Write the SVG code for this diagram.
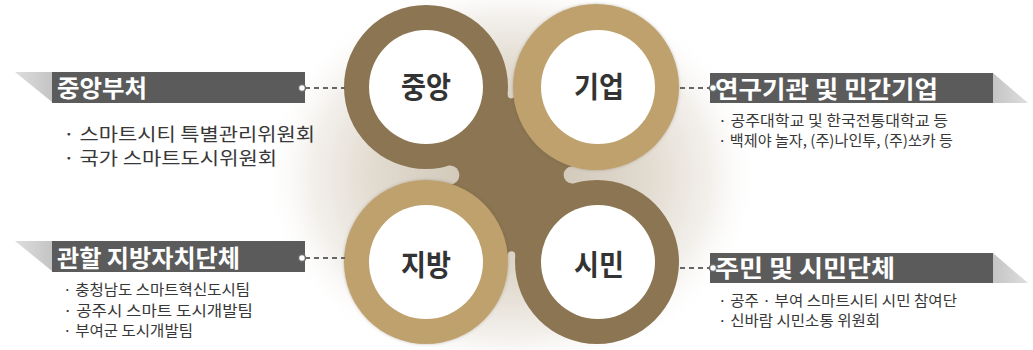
<svg xmlns="http://www.w3.org/2000/svg" width="1033" height="350" viewBox="0 0 1033 350">
  <defs>
    <radialGradient id="glow" cx="0.5" cy="0.5" r="0.5">
      <stop offset="0" stop-color="#c9bfae"/>
      <stop offset="0.55" stop-color="#e2dbd0"/>
      <stop offset="0.8" stop-color="#f3f0ec"/>
      <stop offset="1" stop-color="#ffffff" stop-opacity="0"/>
    </radialGradient>
    <linearGradient id="triL" x1="0" y1="0" x2="1" y2="0">
      <stop offset="0" stop-color="#dedede"/>
      <stop offset="1" stop-color="#c4c4c4"/>
    </linearGradient>
    <linearGradient id="triR" x1="0" y1="0" x2="1" y2="0">
      <stop offset="0" stop-color="#c4c4c4"/>
      <stop offset="1" stop-color="#dedede"/>
    </linearGradient>
    <filter id="sh" x="-20%" y="-20%" width="140%" height="140%">
      <feDropShadow dx="0" dy="0" stdDeviation="1.5" flood-color="#5a4a30" flood-opacity="0.35"/>
    </filter>
    <mask id="hubMask" maskUnits="userSpaceOnUse" x="0" y="0" width="1033" height="350">
      <rect x="0" y="0" width="1033" height="350" fill="#ffffff"/>
      <circle cx="450" cy="175" r="9.4" fill="#000000"/>
      <rect x="0" y="160" width="450" height="30" fill="#000000"/>
      <circle cx="572" cy="175" r="8.4" fill="#000000"/>
      <rect x="572" y="160" width="461" height="30" fill="#000000"/>
      <circle cx="511" cy="95" r="3.4" fill="#000000"/>
      <rect x="500" y="0" width="22" height="95" fill="#000000"/>
      <circle cx="511.5" cy="255" r="3.8" fill="#000000"/>
      <rect x="500" y="255" width="23" height="95" fill="#000000"/>
    </mask>
  </defs>
  <style>
    .bar { fill: #5b5b5b; }
    .head { font-family: "Noto Sans CJK KR", "Noto Sans", sans-serif; font-weight: bold; font-size: 24px; fill: #ffffff; }
    .item { font-family: "Noto Sans CJK KR", "Noto Sans", sans-serif; fill: #383838; }
    .big { font-size: 18px; }
    .small { font-size: 15px; }
    .node { font-family: "Noto Sans CJK KR", "Noto Sans", sans-serif; font-weight: bold; font-size: 29px; fill: #333333; text-anchor: middle; }
    .dark { fill: #8b7552; }
    .tan { fill: #bfa16e; }
    .inner { fill: #ffffff; }
    .dash { stroke: #666666; stroke-width: 2; stroke-dasharray: 5 4; fill: none; }
    .dot { fill: #ffffff; stroke: #6a6a6a; stroke-width: 1.5; }
  </style>

  <rect width="1033" height="350" fill="#ffffff"/>
  <ellipse cx="511" cy="176" rx="250" ry="200" fill="url(#glow)"/>

  <g id="hub">
    <rect x="426" y="87" width="171" height="175" class="dark" mask="url(#hubMask)"/>
  </g>

  <g id="node-center">
    <circle cx="426" cy="87" r="82" class="dark"/>
    <circle cx="426" cy="87" r="57" class="inner"/>
    <text x="426" y="98" class="node" textLength="50" lengthAdjust="spacingAndGlyphs">중앙</text>
  </g>
  <g id="node-citizen">
    <circle cx="597" cy="262" r="82" class="dark"/>
    <circle cx="598" cy="262" r="57" class="inner"/>
    <text x="599" y="276" class="node" textLength="50" lengthAdjust="spacingAndGlyphs">시민</text>
  </g>
  <g id="node-company">
    <circle cx="596" cy="87" r="83" class="tan" filter="url(#sh)"/>
    <circle cx="598" cy="87" r="57" class="inner"/>
    <text x="599" y="98" class="node" textLength="50" lengthAdjust="spacingAndGlyphs">기업</text>
  </g>
  <g id="node-local">
    <circle cx="426" cy="262" r="82" class="tan" filter="url(#sh)"/>
    <circle cx="426" cy="262" r="57" class="inner"/>
    <text x="426" y="276" class="node" textLength="50" lengthAdjust="spacingAndGlyphs">지방</text>
  </g>

  <g id="connectors">
    <line x1="305" y1="88" x2="345" y2="88" class="dash"/>
    <line x1="305" y1="258" x2="345" y2="258" class="dash"/>
    <line x1="680" y1="88" x2="710" y2="88" class="dash"/>
    <line x1="680" y1="268" x2="710" y2="268" class="dash"/>
  </g>

  <g id="label-central">
    <polygon points="15,72 52,72 52,102" fill="url(#triL)"/>
    <rect x="52" y="72" width="253" height="31" class="bar"/>
    <circle cx="302" cy="88" r="3.5" class="dot"/>
    <text x="57" y="97" class="head" textLength="90" lengthAdjust="spacingAndGlyphs">중앙부처</text>
    <text x="63" y="141" class="item big" textLength="252" lengthAdjust="spacingAndGlyphs">· 스마트시티 특별관리위원회</text>
    <text x="63" y="165" class="item big" textLength="214" lengthAdjust="spacingAndGlyphs">· 국가 스마트도시위원회</text>
  </g>

  <g id="label-local">
    <polygon points="15,241 52,241 52,271" fill="url(#triL)"/>
    <rect x="52" y="241" width="253" height="31" class="bar"/>
    <circle cx="302" cy="258" r="3.5" class="dot"/>
    <text x="57" y="267" class="head" textLength="183" lengthAdjust="spacingAndGlyphs">관할 지방자치단체</text>
    <text x="63" y="295" class="item small" textLength="187" lengthAdjust="spacingAndGlyphs">· 충청남도 스마트혁신도시팀</text>
    <text x="63" y="316" class="item small" textLength="190" lengthAdjust="spacingAndGlyphs">· 공주시 스마트 도시개발팀</text>
    <text x="63" y="336" class="item small" textLength="130" lengthAdjust="spacingAndGlyphs">· 부여군 도시개발팀</text>
  </g>

  <g id="label-company">
    <polygon points="993,73 1028,103 993,103" fill="url(#triR)"/>
    <rect x="710" y="73" width="283" height="30" class="bar"/>
    <circle cx="713" cy="88" r="3.5" class="dot"/>
    <text x="715" y="98" class="head" textLength="223" lengthAdjust="spacingAndGlyphs">연구기관 및 민간기업</text>
    <text x="718" y="126" class="item small" textLength="230" lengthAdjust="spacingAndGlyphs">· 공주대학교 및 한국전통대학교 등</text>
    <text x="718" y="146" class="item small" textLength="235" lengthAdjust="spacingAndGlyphs">· 백제야 놀자, (주)나인투, (주)쏘카 등</text>
  </g>

  <g id="label-citizen">
    <polygon points="993,253 1028,283 993,283" fill="url(#triR)"/>
    <rect x="710" y="253" width="283" height="30" class="bar"/>
    <circle cx="713" cy="268" r="3.5" class="dot"/>
    <text x="715" y="277" class="head" textLength="180" lengthAdjust="spacingAndGlyphs">주민 및 시민단체</text>
    <text x="718" y="306" class="item small" textLength="239" lengthAdjust="spacingAndGlyphs">· 공주 · 부여 스마트시티 시민 참여단</text>
    <text x="718" y="326" class="item small" textLength="162" lengthAdjust="spacingAndGlyphs">· 신바람 시민소통 위원회</text>
  </g>
</svg>
